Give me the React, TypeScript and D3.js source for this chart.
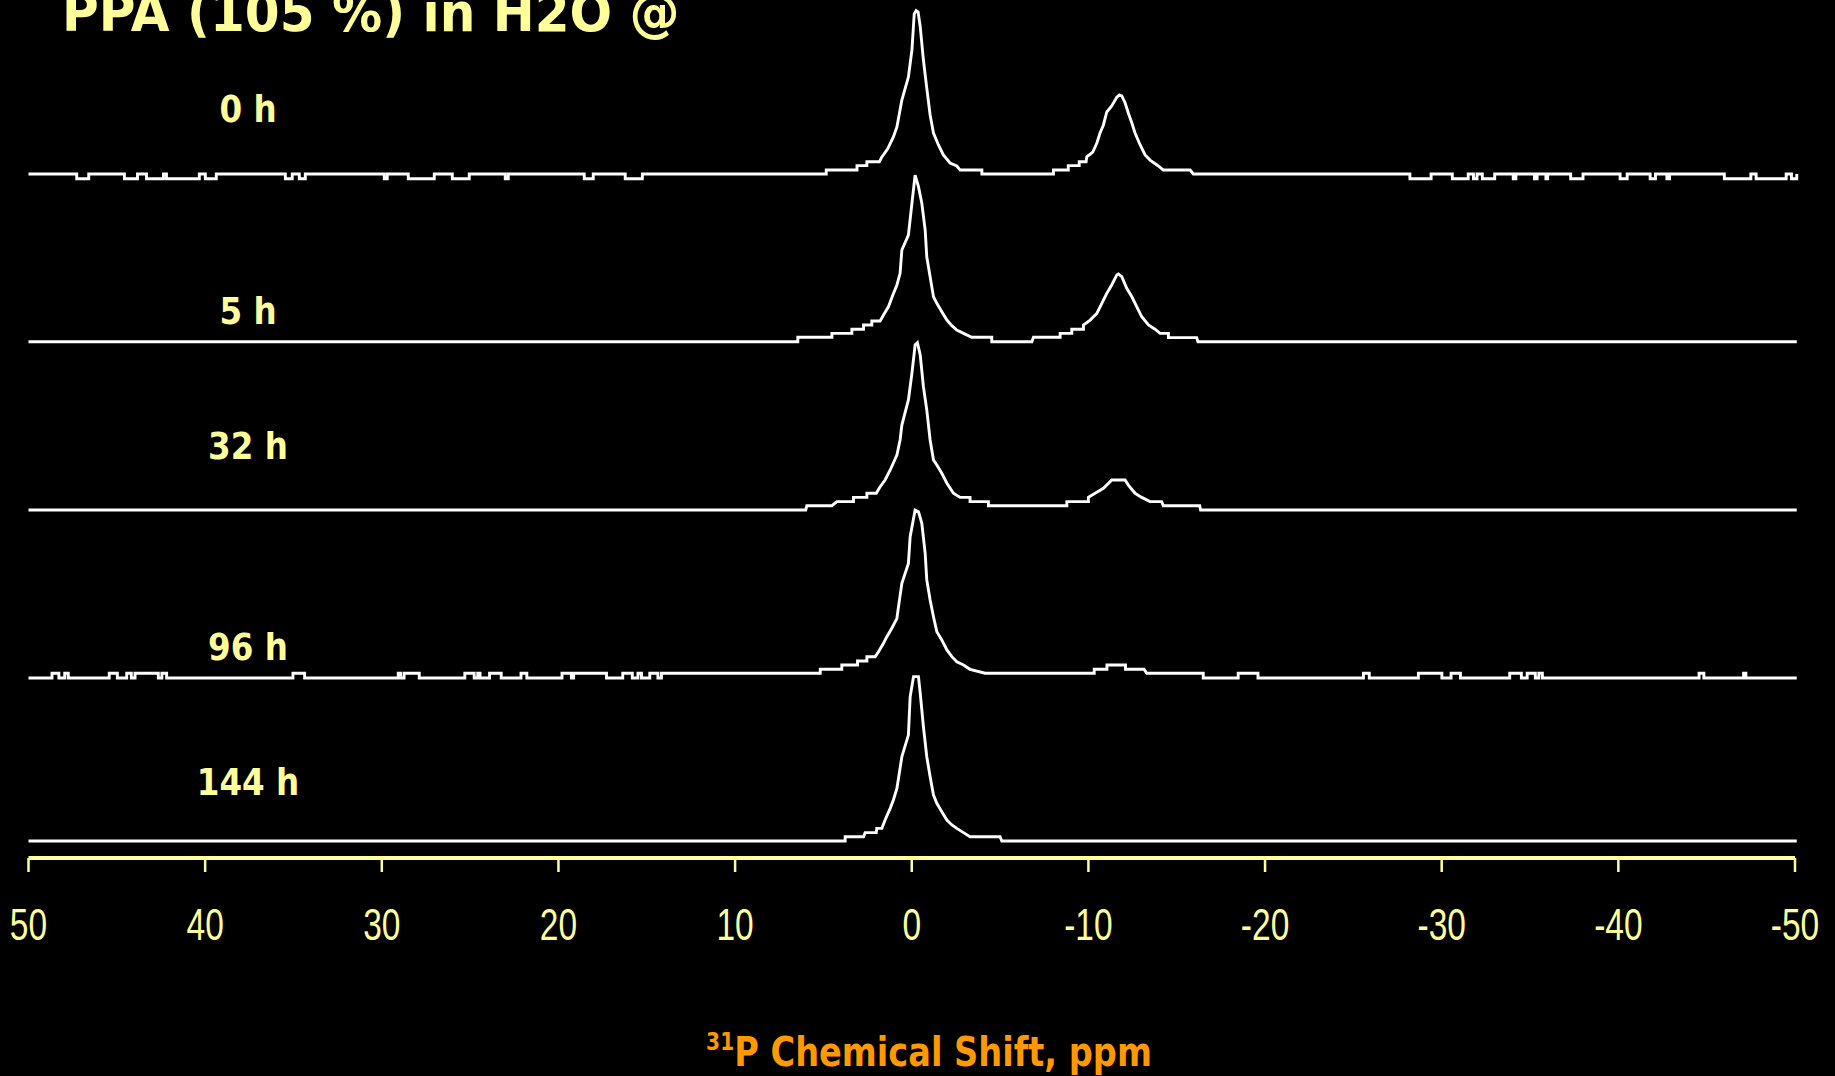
import React from 'react';
import * as d3 from 'd3';

type Pt = [number, number];

// ---------- data ----------
const ppmTicks: number[] = [50, 40, 30, 20, 10, 0, -10, -20, -30, -40, -50];
const timeLabels: string[] = ['0 h', '5 h', '32 h', '96 h', '144 h'];
const titleText = 'PPA (105 %) in H2O @';
const axisTitleSup = '31';
const axisTitleMain = 'P Chemical Shift, ppm';

// peak outlines: [ppm, intensity (% of 0 h main peak)]
const peaks0h: Pt[] = [
  [4.84, 0], [4.84, 2.4], [3.10, 2.4], [3.10, 5.1], [2.54, 5.1], [2.54, 7.5], [1.83, 7.5], [1.69, 10.4],
  [1.37, 15.2], [1.04, 22.6], [0.84, 28.7], [0.56, 45.1], [0.19, 59.1], [-0.01, 75.6], [-0.14, 97.6],
  [-0.25, 99.6], [-0.36, 98.8], [-0.48, 89.8], [-0.66, 69.5], [-0.85, 52.4], [-1.04, 36.0], [-1.23, 25.0],
  [-1.51, 17.7], [-1.79, 11.6], [-2.17, 6.7], [-2.55, 4.9], [-2.74, 2.4], [-3.97, 2.4], [-3.97, 0],
  [-8.02, 0], [-8.02, 2.4], [-8.86, 2.4], [-8.86, 5.1], [-9.48, 5.1], [-9.48, 7.5], [-9.87, 7.5],
  [-9.91, 10.5], [-10.25, 13.4], [-10.48, 18.9], [-10.66, 25.0], [-10.85, 29.9], [-11.04, 37.8],
  [-11.32, 41.5], [-11.61, 46.9], [-11.75, 48.2], [-11.89, 47.6], [-12.08, 43.3], [-12.26, 37.2],
  [-12.46, 31.1], [-12.64, 25.0], [-12.93, 17.7], [-13.21, 11.6], [-13.49, 8.5], [-13.96, 4.9],
  [-14.24, 2.4], [-15.76, 2.4], [-15.94, 0],
];
const peaks5h: Pt[] = [
  [6.45, 0], [6.45, 2.7], [4.52, 2.7], [4.52, 5.1], [3.39, 5.1], [3.39, 7.6], [2.73, 7.6], [2.73, 10.2],
  [2.26, 10.2], [2.26, 12.6], [1.79, 12.6], [1.60, 16.3], [1.32, 21.3], [1.07, 28.5], [0.84, 34.6],
  [0.66, 41.7], [0.56, 55.9], [0.19, 65.0], [-0.01, 84.4], [-0.19, 101.6], [-0.38, 94.5], [-0.57, 84.4],
  [-0.76, 68.1], [-0.85, 51.8], [-1.04, 39.6], [-1.23, 27.4], [-1.42, 23.4], [-1.70, 18.3], [-1.99, 13.2],
  [-2.27, 9.8], [-2.55, 7.1], [-2.93, 5.1], [-3.40, 2.7], [-4.53, 2.7], [-4.53, 0], [-6.80, 0],
  [-6.89, 2.7], [-8.40, 2.7], [-8.40, 5.1], [-9.06, 5.1], [-9.06, 7.6], [-9.72, 7.6], [-9.72, 10.2],
  [-10.10, 13.2], [-10.48, 17.3], [-10.76, 23.4], [-11.04, 29.5], [-11.32, 34.6], [-11.61, 40.7],
  [-11.70, 41.3], [-11.89, 39.6], [-12.17, 32.6], [-12.46, 27.4], [-12.74, 21.3], [-13.02, 15.2],
  [-13.40, 10.2], [-13.77, 7.6], [-14.06, 5.1], [-14.53, 5.1], [-14.53, 2.5], [-16.13, 2.5], [-16.2, 0],
];
const peaks32h: Pt[] = [
  [6.0, 0], [5.94, 2.6], [4.52, 2.6], [4.24, 5.1], [3.30, 5.1], [3.30, 7.7], [2.54, 7.7], [2.54, 10.2],
  [2.01, 10.2], [1.79, 14.2], [1.51, 18.3], [1.22, 24.4], [0.84, 33.5], [0.66, 42.7], [0.56, 51.8],
  [0.19, 67.1], [-0.01, 83.4], [-0.19, 100.6], [-0.32, 102.0], [-0.48, 94.5], [-0.66, 75.2], [-0.85, 61.0],
  [-1.04, 42.7], [-1.23, 30.5], [-1.42, 27.4], [-1.70, 22.4], [-1.99, 16.3], [-2.36, 10.2], [-2.74, 7.7],
  [-3.30, 7.7], [-3.30, 5.1], [-4.34, 5.1], [-4.34, 2.6], [-8.78, 2.6], [-8.78, 5.1], [-10.00, 5.1],
  [-10.00, 7.7], [-10.38, 10.2], [-10.85, 13.2], [-11.23, 17.3], [-11.32, 18.3], [-12.08, 18.3],
  [-12.26, 15.2], [-12.64, 10.2], [-13.02, 7.7], [-13.49, 5.1], [-14.15, 5.1], [-14.24, 2.6],
  [-16.3, 2.6], [-16.35, 0],
];
const peaks96h: Pt[] = [
  [14.17, 0], [14.17, 2.9], [5.18, 2.9], [5.18, 5.3], [3.96, 5.3], [3.96, 7.9], [3.07, 7.9], [3.07, 10.4],
  [2.54, 10.4], [2.54, 13.0], [2.07, 13.0], [1.88, 16.0], [1.60, 21.2], [1.41, 25.2], [1.13, 30.3],
  [0.84, 36.4], [0.75, 43.5], [0.56, 57.7], [0.19, 69.9], [0.09, 86.2], [-0.19, 102.4], [-0.38, 101.4],
  [-0.57, 94.3], [-0.76, 76.0], [-0.85, 59.8], [-1.04, 47.6], [-1.23, 37.4], [-1.42, 28.2], [-1.70, 23.2],
  [-1.99, 17.1], [-2.27, 13.0], [-2.55, 9.9], [-2.93, 7.9], [-3.30, 5.3], [-4.15, 2.9], [-10.33, 2.9],
  [-10.33, 5.3], [-11.05, 5.3], [-11.05, 7.9], [-12.10, 7.9], [-12.10, 5.3], [-13.15, 5.3], [-13.30, 2.9],
  [-16.5, 2.9], [-16.5, 0],
];
const peaks144h: Pt[] = [
  [3.77, 0], [3.77, 2.6], [2.73, 2.6], [2.64, 5.1], [2.01, 5.1], [1.98, 7.7], [1.69, 7.7], [1.51, 12.8],
  [1.22, 19.9], [1.04, 25.0], [0.84, 32.1], [0.75, 38.2], [0.56, 51.4], [0.19, 64.6], [0.09, 88.0],
  [-0.10, 100.2], [-0.38, 100.2], [-0.48, 90.1], [-0.66, 69.7], [-0.85, 51.4], [-1.04, 39.2],
  [-1.23, 28.0], [-1.42, 23.0], [-1.70, 17.9], [-1.99, 12.8], [-2.27, 9.8], [-2.55, 7.7], [-2.93, 5.1],
  [-3.30, 2.6], [-5.00, 2.6], [-5.10, 0],
];

// baseline noise steps: [from ppm, to ppm] intervals, with the step level
const noise0h: Pt[] = [
  [47.27, 46.59], [44.57, 43.83], [43.32, 42.36], [42.19, 40.33], [39.99, 39.37], [35.46, 35.07],
  [34.67, 34.33], [29.86, 29.69], [28.50, 27.03], [26.01, 25.05], [23.01, 22.84], [18.54, 18.03],
  [16.22, 15.25], [-28.2, -29.4], [-30.6, -31.5], [-31.8, -32.0], [-32.3, -33.0], [-34.05, -34.2],
  [-35.25, -35.4], [-35.9, -36.0], [-37.3, -38.0], [-40.1, -40.5], [-41.8, -42.1], [-42.75, -42.9],
  [-46.0, -47.5], [-47.8, -49.5], [-49.8, -50.1],
];
const noise96h: Pt[] = [
  [48.67, 48.28], [47.95, 47.75], [45.43, 44.97], [44.44, 44.18], [43.97, 42.65], [42.45, 42.18],
  [35.03, 34.37], [29.07, 28.94], [28.74, 27.88], [25.30, 24.77], [24.57, 24.44], [23.90, 23.24],
  [22.12, 21.79], [19.80, 19.27], [19.14, 17.28], [16.36, 15.82], [15.50, 15.30], [14.83, 14.37],
  [-18.48, -19.60], [-25.57, -25.90], [-28.68, -30.01], [-30.53, -31.06], [-33.85, -34.51],
  [-34.84, -35.30], [-35.50, -35.70], [-44.57, -44.84], [-47.09, -47.22],
];
const noiseLevels: number[] = [-2.9, 0, 0, 2.9, 0];
const peakSets: Pt[][] = [peaks0h, peaks5h, peaks32h, peaks96h, peaks144h];
const noiseSets: Pt[][] = [noise0h, [], [], noise96h, []];
const ppmStart = 50;
const ppmEnd = -50.1;

// ---------- layout ----------
const W = 1835;
const H = 1076;
const plotLeft = 28.5;
const plotRight = 1795;
const traceBaselines = [174, 341.7, 510, 678, 841];
const labelBaselines = [122, 324, 459, 660, 795];
const labelX = 248;
const peakPx = 164; // px for intensity 100
const axisY = 858;

const YELLOW = '#FFFF99';
const ORANGE = '#FF9900';

function buildSeries(peaks: Pt[], noise: Pt[], level: number): Pt[] {
  const pts: Pt[] = [[ppmStart, 0]];
  for (const [a, b] of noise) pts.push([a, 0], [a, level], [b, level], [b, 0]);
  for (const p of peaks) pts.push(p);
  pts.push([ppmEnd, 0]);
  return pts.slice().sort((p, q) => q[0] - p[0]);
}

export default function App() {
  const x = d3.scaleLinear().domain([50, -50]).range([plotLeft, plotRight]);

  const traces = peakSets.map((pk, i) => {
    const data = buildSeries(pk, noiseSets[i], noiseLevels[i]);
    const y = d3.scaleLinear().domain([0, 100]).range([traceBaselines[i], traceBaselines[i] - peakPx]);
    const line = d3.line<Pt>().x((d) => x(d[0])).y((d) => y(d[1]));
    return line(data) || '';
  });

  return (
    <svg
      width={W}
      height={H}
      style={{ position: 'absolute', left: 0, top: 0, background: '#000', display: 'block' }}
    >
      <rect x={0} y={0} width={W} height={H} fill="#000" />
      <text
        transform="translate(62,31) scale(0.928,1)"
        fontFamily="'DejaVu Sans', Verdana, sans-serif"
        fontWeight="bold"
        fontSize={54}
        fill={YELLOW}
      >
        {titleText}
      </text>

      {traces.map((d, i) => (
        <path key={i} d={d} fill="none" stroke="#FFFFFF" strokeWidth={2.9} strokeLinejoin="miter" />
      ))}

      {timeLabels.map((t, i) => (
        <text
          key={t}
          transform={`translate(${labelX},${labelBaselines[i]}) scale(0.88,1)`}
          textAnchor="middle"
          fontFamily="'DejaVu Sans', Verdana, sans-serif"
          fontWeight="bold"
          fontSize={37}
          fill={YELLOW}
        >
          {t}
        </text>
      ))}

      <line x1={x(50)} x2={x(-50)} y1={axisY} y2={axisY} stroke={YELLOW} strokeWidth={4} />
      {ppmTicks.map((t) => (
        <g key={t}>
          <line x1={x(t)} x2={x(t)} y1={axisY} y2={axisY + 14} stroke={YELLOW} strokeWidth={2.5} />
          <text
            transform={`translate(${x(t)},940) scale(0.745,1)`}
            textAnchor="middle"
            fontFamily="'Liberation Sans', Arial, sans-serif"
            fontSize={45}
            fill={YELLOW}
          >
            {String(t)}
          </text>
        </g>
      ))}

      <text
        transform="translate(929,1066) scale(0.84,1)"
        textAnchor="middle"
        fontFamily="'DejaVu Sans', Verdana, sans-serif"
        fontWeight="bold"
        fontSize={40}
        fill={ORANGE}
      >
        <tspan fontSize={24} dy={-16}>{axisTitleSup}</tspan>
        <tspan dy={16}>{axisTitleMain}</tspan>
      </text>
    </svg>
  );
}
